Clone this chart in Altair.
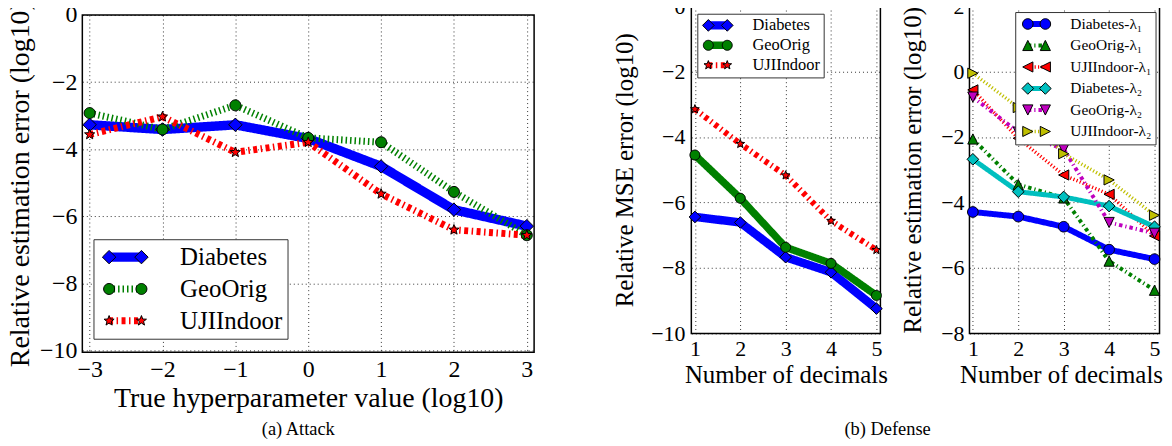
import math
import json
import altair as alt
import pandas as pd

FONT = "Liberation Serif"

# ---------------- data: (a) Attack ----------------
a_x = [-3, -2, -1, 0, 1, 2, 3]
a_names = ["Diabetes", "GeoOrig", "UJIIndoor"]
a_diabetes = [-3.27, -3.41, -3.27, -3.68, -4.51, -5.80, -6.29]
a_geoorig = [-2.92, -3.41, -2.69, -3.66, -3.79, -5.27, -6.56]
a_ujiindoor = [-3.56, -3.03, -4.09, -3.79, -5.33, -6.40, -6.56]
a_xticks = [-3, -2, -1, 0, 1, 2, 3]
a_yticks = [-10, -8, -6, -4, -2, 0]

# ---------------- data: (b) Defense, left ----------------
b_x = [1, 2, 3, 4, 5]
bl_names = ["Diabetes", "GeoOrig", "UJIIndoor"]
bl_diabetes = [-6.44, -6.61, -7.67, -8.13, -9.24]
bl_geoorig = [-4.55, -5.87, -7.37, -7.86, -8.84]
bl_ujiindoor = [-3.15, -4.21, -5.17, -6.56, -7.45]
b_xticks = [1, 2, 3, 4, 5]
bl_yticks = [-10, -8, -6, -4, -2, 0]

# ---------------- data: (b) Defense, right ----------------
br_names = ["Diabetes-λ₁", "GeoOrig-λ₁", "UJIIndoor-λ₁",
            "Diabetes-λ₂", "GeoOrig-λ₂", "UJIIndoor-λ₂"]
br_diabetes_l1 = [-4.29, -4.43, -4.74, -5.44, -5.73]
br_geoorig_l1 = [-2.06, -3.45, -3.86, -5.79, -6.68]
br_ujiindoor_l1 = [-0.56, -2.04, -3.16, -3.75, -5.02]
br_diabetes_l2 = [-2.68, -3.67, -3.83, -4.11, -4.74]
br_geoorig_l2 = [-0.78, -1.85, -2.37, -4.61, -4.94]
br_ujiindoor_l2 = [-0.05, -1.10, -2.51, -3.31, -4.39]
br_yticks = [-8, -6, -4, -2, 0, 2]


# ---------------- marker path helpers (style) ----------------
def poly(pts):
    return "M" + "L".join(f"{px:.3f},{py:.3f}" for px, py in pts) + "Z"


def marker(kind, r=1.0, cx=0.0):
    if kind == "diamond":
        pts = [(cx - r, 0), (cx, -r), (cx + r, 0), (cx, r)]
    elif kind == "circle":
        pts = [(cx + r * math.cos(2 * math.pi * k / 32), r * math.sin(2 * math.pi * k / 32)) for k in range(32)]
    elif kind == "star":
        pts = []
        for k in range(10):
            rr = r if k % 2 == 0 else 0.42 * r
            ang = math.radians(-90 + 36 * k)
            pts.append((cx + rr * math.cos(ang), rr * math.sin(ang)))
    elif kind == "tri-up":
        pts = [(cx, -r), (cx - r, r), (cx + r, r)]
    elif kind == "tri-down":
        pts = [(cx, r), (cx - r, -r), (cx + r, -r)]
    elif kind == "tri-left":
        pts = [(cx - r, 0), (cx + r, -r), (cx + r, r)]
    else:  # tri-right
        pts = [(cx + r, 0), (cx - r, -r), (cx - r, r)]
    return poly(pts)


def build_panel(xs, names, series, colors, widths, dashes, kinds, sizes, leg_r, half_sep, leg_sw,
                xdom, ydom, xticks, yticks, w, h, lab_fs, tit_fs, xtitle, ytitle,
                xlab_pad, xtitle_y, ylab_pad, ytitle_x,
                lx, ly, lpad, lrow, lclip, loff, llab, lfs, xtitle_x=None):
    rows = []
    for i, (n, vals) in enumerate(zip(names, series)):
        for xv, yv in zip(xs, vals):
            rows.append({"x": xv, "y": yv, "series": n, "si": i})
    df = pd.DataFrame(rows)
    idx = list(range(len(names)))

    ax = dict(grid=True, gridColor="#000000", gridDash=[1, 3], gridWidth=0.8, gridOpacity=1,
              domain=False, ticks=False, tickSize=0, labelFont=FONT, labelFontSize=lab_fs,
              labelColor="#000000", labelFlush=False, labelOverlap=False, format="d",
              titleFont=FONT, titleFontSize=tit_fs, titleFontWeight="normal", titleColor="#000000")
    xax = dict(values=xticks, title=xtitle, labelPadding=xlab_pad, titleY=xtitle_y, **ax)
    if xtitle_x is not None:
        xax["titleX"] = xtitle_x
    X = alt.X("x:Q", scale=alt.Scale(domain=xdom, nice=False, zero=False), axis=alt.Axis(**xax))
    Y = alt.Y("y:Q", scale=alt.Scale(domain=ydom, nice=False, zero=False),
              axis=alt.Axis(values=yticks, title=ytitle, labelPadding=ylab_pad, titleX=ytitle_x, **ax))

    common_leg = dict(orient="none", legendX=lx, legendY=ly, direction="vertical",
                      symbolSize=4, padding=lpad, rowPadding=lrow, clipHeight=lclip,
                      symbolOffset=loff, labelOffset=llab, labelFont=FONT, labelFontSize=lfs,
                      labelLimit=600)
    label_expr = json.dumps(names, ensure_ascii=False) + "[datum.value]"
    line_path = f"M{-half_sep:.2f},0L{half_sep:.2f},0"

    line = alt.Chart(df).mark_line(strokeJoin="round", strokeCap="butt", opacity=1).encode(
        x=X, y=Y, detail="si:N",
        stroke=alt.Stroke("si:Q", title=None,
                          scale=alt.Scale(domain=idx, range=colors, nice=False, zero=False),
                          legend=alt.Legend(type="symbol", values=idx, labelExpr=label_expr,
                                            symbolType=line_path, labelColor="#000000",
                                            fillColor="#ffffff", strokeColor="#333333",
                                            symbolStrokeWidth=leg_sw, symbolOpacity=1,
                                            **common_leg)),
        strokeWidth=alt.StrokeWidth("si:Q", legend=None,
                                    scale=alt.Scale(domain=idx, range=widths, nice=False, zero=False)),
        strokeDash=alt.StrokeDash("si:O", title=None, scale=alt.Scale(domain=idx, range=dashes)),
    )

    pts = alt.Chart(df).transform_calculate(
        sz=json.dumps(sizes) + "[datum.si]"
    ).mark_point(filled=True, stroke="#000000", strokeWidth=1, opacity=1).encode(
        x=X, y=Y,
        fill=alt.Fill("series:N", scale=alt.Scale(domain=names, range=colors), legend=None),
        shape=alt.Shape("series:N", scale=alt.Scale(domain=names, range=[marker(k) for k in kinds]),
                        legend=None),
        size=alt.Size("sz:Q", scale=None),
    )

    keys = [f"k{i}" for i in idx]
    leg_paths = [marker(k, r, -half_sep) + marker(k, r, half_sep) for k, r in zip(kinds, leg_r)]
    legl = alt.Chart(df).transform_filter("false").mark_point(
        filled=True, stroke="#000000", strokeWidth=1, opacity=1).encode(
        fill=alt.Fill("lk:N", title=None, scale=alt.Scale(domain=keys, range=colors),
                      legend=alt.Legend(labelExpr="''", labelOpacity=0, labelColor="#000000",
                                        symbolStrokeColor="#000000", symbolStrokeWidth=1,
                                        symbolOpacity=1, **common_leg)),
        shape=alt.Shape("lk:N", title=None, scale=alt.Scale(domain=keys, range=leg_paths)),
    )

    return alt.layer(line, pts, legl).resolve_scale(
        fill="independent", shape="independent", stroke="independent",
        strokeWidth="independent", strokeDash="independent").properties(width=w, height=h)


C3 = ["#0000ff", "#008000", "#ff0000"]

chart_a = build_panel(
    a_x, a_names, [a_diabetes, a_geoorig, a_ujiindoor], C3,
    widths=[9.5, 7, 7], dashes=[[1, 0], [1.5, 3], [4, 3.5, 1.5, 3.5]],
    kinds=["diamond", "circle", "star"], sizes=[182, 121, 115], leg_r=[6.75, 5.5, 5.3],
    half_sep=16.25, leg_sw=8,
    xdom=[-3.1, 3.1], ydom=[-10.05, 0], xticks=a_xticks, yticks=a_yticks, w=454, h=339,
    lab_fs=24, tit_fs=28, xtitle="True hyperparameter value (log10)",
    ytitle="Relative estimation error (log10)",
    xlab_pad=5.3, xtitle_y=32.7, ylab_pad=5.5, ytitle_x=-48,
    lx=11.2, ly=225.3, lpad=4.5, lrow=5, lclip=27, loff=14.95, llab=42.6, lfs=25,
).properties(title=alt.TitleParams("(a) Attack", orient="bottom", anchor="middle", frame="group",
                                   font=FONT, fontSize=18.5, fontWeight="normal", color="#000000",
                                   offset=7.1, dx=-10))

chart_bl = build_panel(
    b_x, bl_names, [bl_diabetes, bl_geoorig, bl_ujiindoor], C3,
    widths=[8.5, 7.5, 6], dashes=[[1, 0], [1, 0], [4, 3.5, 1.5, 3.5]],
    kinds=["diamond", "circle", "star"], sizes=[137, 100, 85], leg_r=[5.85, 5, 4.6],
    half_sep=9.5, leg_sw=7.5,
    xdom=[0.921, 5.088], ydom=[-10, 0], xticks=b_xticks, yticks=bl_yticks, w=190, h=329,
    lab_fs=22, tit_fs=25, xtitle="Number of decimals", ytitle="Relative MSE error (log10)",
    xlab_pad=5, xtitle_y=29.7, ylab_pad=6.5, ytitle_x=-54.1,
    lx=6, ly=7.7, lpad=3.2, lrow=3, lclip=17, loff=9.15, llab=26.6, lfs=16.5,
)

chart_br = build_panel(
    b_x, br_names,
    [br_diabetes_l1, br_geoorig_l1, br_ujiindoor_l1, br_diabetes_l2, br_geoorig_l2, br_ujiindoor_l2],
    ["#0000ff", "#008000", "#ff0000", "#00bfbf", "#bf00bf", "#bfbf00"],
    widths=[6, 4, 3.5, 5, 4, 3.5],
    dashes=[[1, 0], [3.5, 3, 1.2, 3], [1.2, 2.2], [1, 0], [3.5, 3, 1.2, 3], [1.2, 2.2]],
    kinds=["circle", "tri-up", "tri-left", "diamond", "tri-down", "tri-right"],
    sizes=[114, 105, 105, 137, 105, 105], leg_r=[5.3, 5.1, 5.1, 5.85, 5.1, 5.1],
    half_sep=8.8, leg_sw=4.5,
    xdom=[0.925, 5.11], ydom=[-8, 2], xticks=b_xticks, yticks=br_yticks, w=191, h=329,
    lab_fs=22, tit_fs=25, xtitle="Number of decimals", ytitle="Relative estimation error (log10)",
    xlab_pad=5, xtitle_y=29.7, ylab_pad=5.5, ytitle_x=-44,
    lx=46, ly=6, lpad=4, lrow=4.6, lclip=16, loff=9.7, llab=26.2, lfs=15.5, xtitle_x=92,
)

spacer = alt.Chart(pd.DataFrame({"v": []})).mark_point().properties(
    width=1, height=9, view=alt.ViewBackground(stroke="transparent"))

a_cell = alt.vconcat(spacer, chart_a, spacing=0, bounds="flush")

b_group = alt.hconcat(chart_bl, chart_br, spacing=11.5).properties(
    title=alt.TitleParams("(b) Defense", orient="bottom", anchor="middle", frame="bounds",
                          font=FONT, fontSize=18.5, fontWeight="normal", color="#000000",
                          offset=31.8, dx=0))

chart = alt.hconcat(a_cell, b_group, spacing=75).properties(
    padding={"left": -2.3, "top": -15, "right": 0, "bottom": -2}
).configure_view(stroke="#000000", strokeWidth=1.5)

chart.save("out.html", embed_options={"renderer": "svg", "actions": False})
